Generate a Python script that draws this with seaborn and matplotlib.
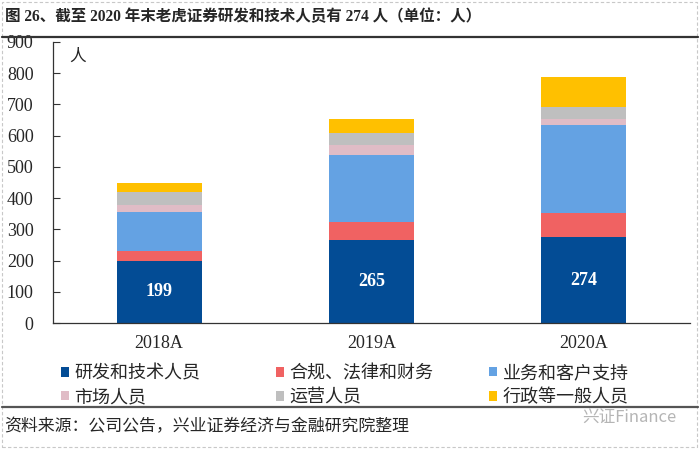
import numpy as np
import pandas as pd
import seaborn as sns
import matplotlib.pyplot as plt
from matplotlib.patches import Patch, Rectangle
from matplotlib.lines import Line2D

years = ["2018A", "2019A", "2020A"]
categories = ["研发和技术人员", "合规、法律和财务", "业务和客户支持", "市场人员", "运营人员", "行政等一般人员"]
rd_staff = [199, 265, 274]
compliance = [33, 57, 78]
business = [125, 215, 282]
marketing = [21, 33, 19]
operations = [43, 40, 40]
admin = [26, 43, 96]
colors = ["#034C95", "#F06262", "#64A2E3", "#E0BCC6", "#BFBFBF", "#FFC000"]

series = [rd_staff, compliance, business, marketing, operations, admin]
df = pd.DataFrame({"年份": years})
for name, vals in zip(categories, series):
    df[name] = vals

sns.set_theme(style="white")
cjk = ["Liberation Serif", "Noto Sans CJK SC"]
plt.rcParams["font.family"] = cjk

fig = plt.figure(figsize=(7, 4.49), dpi=100)
ax = fig.add_axes([53 / 700, 1 - 323 / 449, 637 / 700, 281 / 449])

bottom = np.zeros(len(years))
for name, c in zip(categories, colors):
    sns.barplot(data=df, x="年份", y=name, color=c, width=0.4, bottom=bottom,
                ax=ax, saturation=1, linewidth=0)
    bottom = bottom + df[name].values

# labels for the first segment
for i, v in enumerate(rd_staff):
    ax.text(i, v / 2, str(v), ha="center", va="center", color="white",
            fontsize=13, fontweight="bold", family=cjk)

ax.set_xlim(-0.5, 2.5)
ax.set_ylim(0, 900)
ax.set_yticks(range(0, 901, 100))
ax.set_xlabel("")
ax.set_ylabel("")
ax.set_xticks([-0.5, 0.5, 1.5, 2.5], minor=True)
ax.tick_params(axis="x", which="major", length=0, pad=9, labelsize=13)
ax.tick_params(axis="x", which="minor", direction="in", length=5, width=0.8, color="#333333")
ax.tick_params(axis="y", direction="in", length=5, width=0.8, color="#333333", pad=14, labelsize=13)
ax.tick_params(left=True, bottom=True)
sns.despine(ax=ax)
for s in ["left", "bottom"]:
    ax.spines[s].set_color("#333333")
    ax.spines[s].set_linewidth(0.9)
ax.text(0.025, 0.975, "人", transform=ax.transAxes, fontsize=12, va="top", ha="left")

# legend, one per column
handles = [Patch(facecolor=c, edgecolor="none") for c in colors]
col_x = [61 / 700, 276 / 700, 489 / 700]
for k in range(3):
    fig.legend([handles[k], handles[k + 3]], [categories[k], categories[k + 3]],
               loc="upper left", bbox_to_anchor=(col_x[k], 1 - 365 / 449),
               frameon=False, fontsize=13, handlelength=0.45, handleheight=0.45,
               handletextpad=0.3, labelspacing=0.38, borderaxespad=0, borderpad=0)

fig.text(5 / 700, 1 - 17 / 449, "图 26、截至 2020 年末老虎证券研发和技术人员有 274 人（单位：人）",
         fontsize=11.2, fontweight="bold", va="center", ha="left")
fig.add_artist(Line2D([0.003, 0.997], [1 - 37 / 449] * 2, color="#333333", lw=1.6))
fig.add_artist(Line2D([0.003, 0.997], [1 - 407 / 449] * 2, color="#555555", lw=1.6))
fig.text(4 / 700, 1 - 427 / 449, "资料来源：公司公告，兴业证券经济与金融研究院整理",
         fontsize=12.2, va="center", ha="left")
fig.text(582 / 700, 1 - 418 / 449, "兴证Finance", fontsize=12, color="#B5B5B5",
         va="center", ha="left", family=["Noto Sans CJK SC"])
fig.add_artist(Rectangle((2 / 700, 2 / 449), 695 / 700, 445 / 449, transform=fig.transFigure,
                         fill=False, edgecolor="#C8C8C8", lw=0.8, ls=(0, (3, 2))))

fig.savefig("out.png", dpi=100)
